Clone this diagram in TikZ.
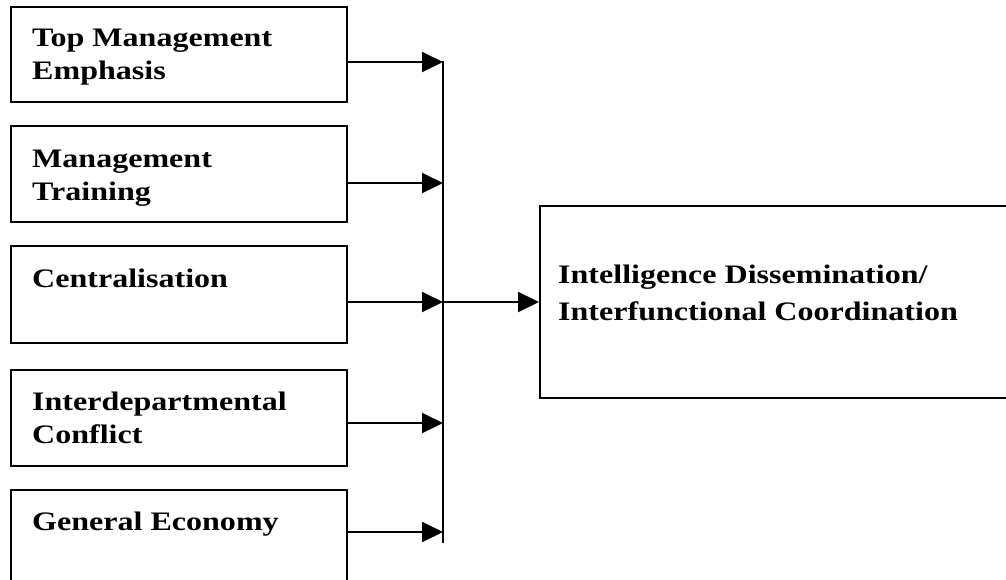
\documentclass[tikz,border=0pt]{standalone}
\usepackage{fontspec}
\newfontfamily\labfont{Liberation Serif}[FakeStretch=1.2]
\usetikzlibrary{arrows.meta}
\begin{document}
\begin{tikzpicture}[x=1pt,y=-1pt,
  frame/.style={draw,line width=1.9pt,inner sep=0pt},
  lbl/.style={anchor=base west,inner sep=0pt,font=\labfont\bfseries\fontsize{26.7pt}{33pt}\selectfont},
  link/.style={line width=1.9pt,-{Triangle[length=21pt,width=20pt]}},
  bar/.style={line width=1.9pt}]
\useasboundingbox (0,0) rectangle (1006,579);
\clip (0,0) rectangle (1006,579);
% source boxes on the left
\node[frame,minimum width=336pt,minimum height=95pt] (b1) at (179,54.5) {};
\node[frame,minimum width=336pt,minimum height=96pt] (b2) at (179,174) {};
\node[frame,minimum width=336pt,minimum height=97pt] (b3) at (179,294.5) {};
\node[frame,minimum width=336pt,minimum height=96pt] (b4) at (179,418) {};
\node[frame,minimum width=336pt,minimum height=110pt] (b5) at (179,545) {};
% target box on the right (runs past the right edge)
\node[frame,minimum width=480pt,minimum height=192pt] (t) at (780,302) {};
% labels
\node[lbl] (l1a) at (32,46) {Top Management};
\node[lbl] (l1b) at (32,79.5) {Emphasis};
\node[lbl] (l2a) at (32,167) {Management};
\node[lbl] (l2b) at (32,200.5) {Training};
\node[lbl] (l3a) at (32,287) {Centralisation};
\node[lbl] (l4a) at (32,410) {Interdepartmental};
\node[lbl] (l4b) at (32,443.5) {Conflict};
\node[lbl] (l5a) at (32,530) {General Economy};
\node[lbl] (tla) at (558,283) {Intelligence Dissemination/};
\node[lbl] (tlb) at (558,320) {Interfunctional Coordination};
% collecting bar
\coordinate (bt) at (443,61);
\coordinate (bb) at (443,543);
\coordinate (j1) at (443,62);
\coordinate (j2) at (443,183);
\coordinate (j3) at (443,302);
\coordinate (j4) at (443,423);
\coordinate (j5) at (443,532);
\draw[bar] (bt) -- (bb);
\draw[link] (b1.east |- j1) -- (j1);
\draw[link] (b2.east |- j2) -- (j2);
\draw[link] (b3.east |- j3) -- (j3);
\draw[link] (b4.east |- j4) -- (j4);
\draw[link] (b5.east |- j5) -- (j5);
\draw[link] (j3) -- (t.west);
\end{tikzpicture}
\end{document}
